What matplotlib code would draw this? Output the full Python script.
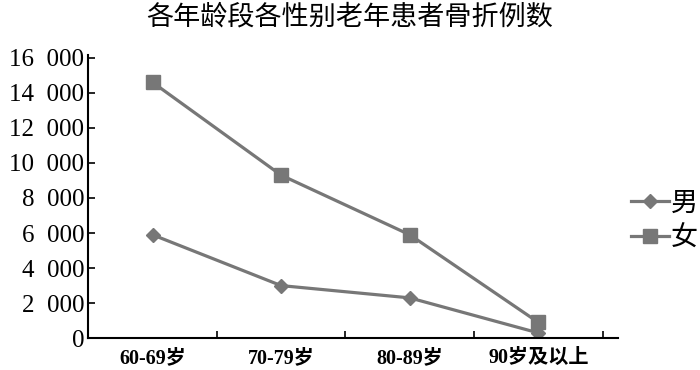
import matplotlib
matplotlib.use("Agg")
from matplotlib import pyplot as plt
from matplotlib.ticker import FuncFormatter

#Data
categories = ['60-69岁', '70-79岁', '80-89岁', '90岁及以上']
male = [5900, 3000, 2300, 300]
female = [14600, 9300, 5900, 900]
yticks = [0, 2000, 4000, 6000, 8000, 10000, 12000, 14000, 16000]

serif = ['Liberation Serif', 'Noto Sans CJK SC']
cjk = ['Noto Sans CJK SC', 'DejaVu Sans']
grey = '#777777'

fig = plt.figure(figsize=(7, 3.7), dpi=100)
ax = fig.add_axes([0.126, 0.086, 0.757, 0.765])

xs = list(range(len(categories)))
ax.plot(xs, male, color=grey, lw=2.3, marker='D', ms=7.5, label='男')
ax.plot(xs, female, color=grey, lw=2.3, marker='s', ms=10.5, label='女')

ax.set_xlim(-0.5, 3.62)
ax.set_ylim(0, 16150)

#y axis, thousands split by a figure space
ax.set_yticks(yticks)
ax.yaxis.set_major_formatter(FuncFormatter(lambda v, p: '{:,}'.format(int(v)).replace(',', '\u2007')))
ax.tick_params(axis='y', direction='in', length=5, width=1.2, pad=3)
for lab in ax.get_yticklabels():
    lab.set_family(serif)
    lab.set_fontsize(18)

#x axis: ticks between categories, labels at centres
ax.set_xticks([0.5, 1.5, 2.5, 3.5])
ax.set_xticklabels([])
ax.tick_params(axis='x', direction='in', length=5, width=1.2)
for i, c in enumerate(categories):
    ax.text(i, -0.07, c, transform=ax.get_xaxis_transform(), ha='center', va='center',
            fontsize=14.5, fontweight='bold', family=serif)

for s in ['top', 'right']:
    ax.spines[s].set_visible(False)
for s in ['left', 'bottom']:
    ax.spines[s].set_linewidth(1.5)

fig.text(0.5, 0.955, '各年龄段各性别老年患者骨折例数', ha='center', va='center',
         fontsize=19.5, family=cjk)

leg = fig.legend(loc='center left', bbox_to_anchor=(0.902, 0.404), frameon=False,
                 prop={'family': cjk, 'size': 19.5}, handlelength=1.4, handletextpad=0.05,
                 labelspacing=0.3, borderaxespad=0, borderpad=0)

fig.savefig('out.png', dpi=100)
